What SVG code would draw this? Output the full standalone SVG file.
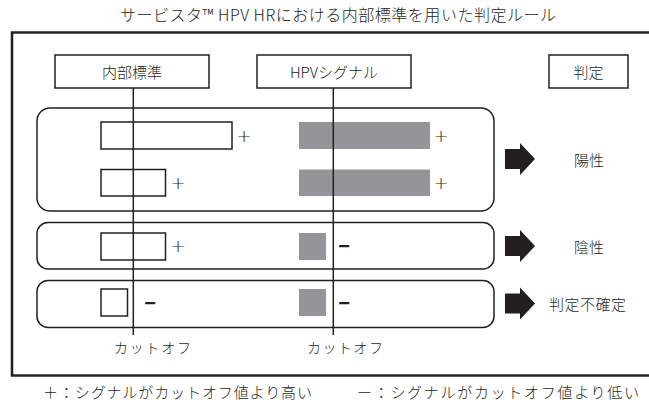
<svg xmlns="http://www.w3.org/2000/svg" width="649" height="400" viewBox="0 0 649 400">
<style>
text{font-family:"Noto Sans CJK JP","Noto Sans",sans-serif;font-weight:300;fill:#231f20;dominant-baseline:central}
.hd{fill:#fff;stroke:#231f20;stroke-width:1.5}
.grp{fill:none;stroke:#231f20;stroke-width:1.5}
.ib{fill:#fff;stroke:#231f20;stroke-width:1.5}
.gb{fill:#939598}
.cut{stroke:#231f20;stroke-width:1.5}
.arr{fill:#231f20}
.t15{font-size:15px}
.pm{font-family:"DejaVu Sans",sans-serif;font-weight:200;font-size:18px;text-anchor:middle}
.mn{font-family:"Liberation Sans",Arial,sans-serif;font-size:20px;font-weight:bold;text-anchor:middle}
</style>
<defs>
<path id="arrow" d="M0,-10 H15 V-16 L30,0 L15,16 V10 H0 Z"/>
</defs>
<text x="338" y="14" font-size="16" text-anchor="middle" textLength="436" lengthAdjust="spacing">サービスタ™ HPV HRにおける内部標準を用いた判定ルール</text>
<rect x="12" y="32.5" width="640" height="343" fill="none" stroke="#231f20" stroke-width="2.5"/>
<g id="header-is"><rect class="hd" x="55" y="55" width="154" height="33"/><text class="t15" x="132" y="71.5" text-anchor="middle">内部標準</text></g>
<g id="header-hpv"><rect class="hd" x="257" y="55" width="154" height="33"/><text class="t15" x="334" y="71.5" text-anchor="middle">HPVシグナル</text></g>
<g id="header-judge"><rect class="hd" x="549" y="55" width="79" height="33"/><text class="t15" x="588.5" y="71.5" text-anchor="middle">判定</text></g>
<g id="group-positive">
<rect class="grp" x="37" y="108" width="457" height="103" rx="13"/>
<rect class="ib" x="101" y="122" width="131" height="27"/><text class="pm" x="244" y="135">+</text>
<rect class="gb" x="299" y="122" width="131" height="27"/><text class="pm" x="441" y="135">+</text>
<rect class="ib" x="101" y="169.5" width="64.5" height="26.5"/><text class="pm" x="178" y="182.5">+</text>
<rect class="gb" x="299" y="169.5" width="131" height="26.5"/><text class="pm" x="441" y="182.5">+</text>
</g>
<g id="group-negative">
<rect class="grp" x="37" y="222.5" width="457" height="46.5" rx="11"/>
<rect class="ib" x="101" y="233" width="64.5" height="27"/><text class="pm" x="178" y="245.5">+</text>
<rect class="gb" x="299" y="233" width="27" height="27"/><text class="mn" x="344" y="245.5">−</text>
</g>
<g id="group-indeterminate">
<rect class="grp" x="37" y="280.5" width="457" height="47" rx="11"/>
<rect class="ib" x="101" y="289" width="26.5" height="27"/><text class="mn" x="150" y="302.5">−</text>
<rect class="gb" x="299" y="289" width="27" height="27"/><text class="mn" x="344" y="302.5">−</text>
</g>
<g id="connectors">
<line class="cut" x1="133.3" y1="88" x2="133.3" y2="335"/>
<line class="cut" x1="333.3" y1="88" x2="333.3" y2="335"/>
<use href="#arrow" class="arr" x="505" y="159"/>
<use href="#arrow" class="arr" x="505" y="246"/>
<use href="#arrow" class="arr" x="505" y="303.5"/>
</g>
<g id="result-positive"><text class="t15" x="589" y="159" text-anchor="middle">陽性</text></g>
<g id="result-negative"><text class="t15" x="589" y="246" text-anchor="middle">陰性</text></g>
<g id="result-indeterminate"><text class="t15" x="587.5" y="303.5" text-anchor="middle" textLength="77" lengthAdjust="spacing">判定不確定</text></g>
<g id="cutoff-labels">
<text x="152.5" y="347" font-size="14" text-anchor="middle" textLength="77" lengthAdjust="spacing">カットオフ</text>
<text x="345" y="347" font-size="14" text-anchor="middle" textLength="76" lengthAdjust="spacing">カットオフ</text>
</g>
<g id="legend">
<text x="43" y="391" font-size="15" textLength="269" lengthAdjust="spacing">＋：シグナルがカットオフ値より高い</text>
<text x="357" y="391" font-size="15" textLength="282" lengthAdjust="spacing">ー：シグナルがカットオフ値より低い</text>
</g>
</svg>
